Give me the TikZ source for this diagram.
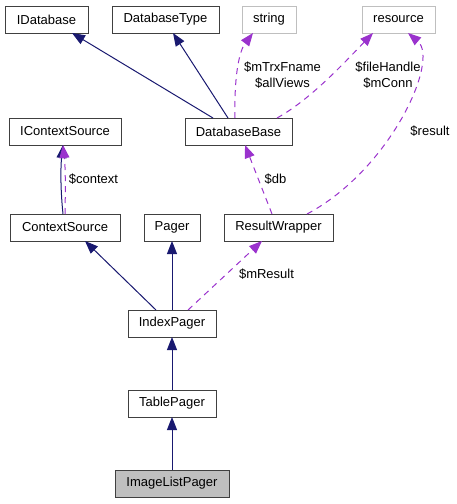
\documentclass[tikz,border=0pt]{standalone}
\usepackage{fontspec}
\setmainfont{Liberation Sans}
\usetikzlibrary{arrows.meta}
\definecolor{edgeblue}{HTML}{191970}
\definecolor{edgepurple}{HTML}{9A32CD}
\definecolor{boxline}{HTML}{404040}
\definecolor{lightline}{HTML}{BFBFBF}
\definecolor{hilite}{HTML}{BFBFBF}
\tikzset{
  cls/.style={draw=boxline, line width=1pt, fill=white, minimum height=27pt, inner sep=0pt, outer sep=0pt, font=\fontsize{13}{15}\selectfont},
  extcls/.style={cls, draw=lightline},
  inh/.style={draw=edgeblue, line width=1pt, -{Triangle[length=13pt,width=10pt]}},
  use/.style={draw=edgepurple, line width=1pt, dash pattern=on 6pt off 5pt, -{Triangle[length=13pt,width=10pt]}},
  lbl/.style={font=\fontsize{13}{16.7}\selectfont, align=center, inner sep=0pt}
}
\begin{document}
\begin{tikzpicture}[x=1pt,y=-1pt]
\useasboundingbox (0,0) rectangle (456,504);
% nodes
\node[cls, minimum width=83pt] (idb) at (46.5,19.5) {IDatabase};
\node[cls, minimum width=107pt] (dbt) at (165.5,19.5) {DatabaseType};
\node[extcls, minimum width=54pt] (str) at (269,19.5) {string};
\node[extcls, minimum width=73pt] (res) at (398.5,19.5) {resource};
\node[cls, minimum width=112pt] (ics) at (65,131.5) {IContextSource};
\node[cls, minimum width=107pt] (dbb) at (238.5,131.5) {DatabaseBase};
\node[cls, minimum width=110pt] (cs) at (65,227.5) {ContextSource};
\node[cls, minimum width=56pt] (pager) at (172,227.5) {Pager};
\node[cls, minimum width=109pt] (rw) at (278.5,227.5) {ResultWrapper};
\node[cls, minimum width=88pt] (ip) at (172,323.5) {IndexPager};
\node[cls, minimum width=88pt] (tp) at (172,403.5) {TablePager};
\node[cls, minimum width=114pt, fill=hilite] (ilp) at (172,483.5) {ImageListPager};
% inheritance edges
\draw[inh] ([xshift=-25.5pt]dbb.north) -- ([xshift=25.5pt]idb.south);
\draw[inh] ([xshift=-10.5pt]dbb.north) -- ([xshift=7.5pt]dbt.south);
\draw[inh] ([xshift=-2pt]cs.north) .. controls (60.5,190) and (60.5,168) .. ([xshift=-2pt]ics.south);
\draw[inh] ([xshift=-16pt]ip.north) -- ([xshift=20pt]cs.south);
\draw[inh] (ip.north) -- (pager.south);
\draw[inh] (tp.north) -- (ip.south);
\draw[inh] (ilp.north) -- (tp.south);
% usage edges
\draw[use] ([xshift=-3.5pt]dbb.north) .. controls (234,72) and (240,50) .. ([xshift=-16pt]str.south);
\draw[use] ([xshift=38.5pt]dbb.north) .. controls (310,100) and (345,62) .. ([xshift=-25.5pt]res.south);
\draw[use] ([xshift=28.5pt]rw.north) .. controls (390,170) and (440,60) .. ([xshift=9.5pt]res.south);
\draw[use] ([xshift=0pt]cs.north) .. controls (65.5,190) and (65.5,168) .. ([xshift=-2pt]ics.south);
\draw[use] ([xshift=-6.5pt]rw.north) -- ([xshift=6.5pt]dbb.south);
\draw[use] ([xshift=16pt]ip.north) -- ([xshift=-16.5pt]rw.south);
% labels
\node[lbl] (l1) at (282.5,75) {\$mTrxFname\\\$allViews};
\node[lbl] (l2) at (388,75) {\$fileHandle\\\$mConn};
\node[lbl] (l3) at (430,131) {\$result};
\node[lbl] (l4) at (93.5,179) {\$context};
\node[lbl] (l5) at (275.5,179) {\$db};
\node[lbl] (l6) at (266.5,274) {\$mResult};
\end{tikzpicture}
\end{document}
